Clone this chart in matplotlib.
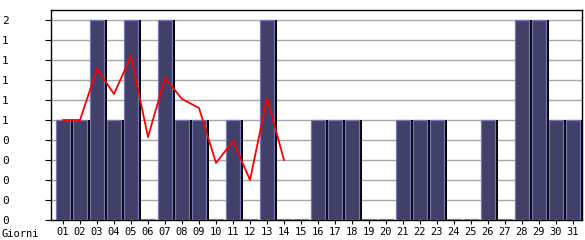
import matplotlib
matplotlib.use("Agg")
import matplotlib.pyplot as plt

# dati giornalieri
giorni = ["%02d" % d for d in range(1, 32)]
valori = [1, 1, 2, 1, 2, 0, 2, 1, 1, 0, 1, 0, 2, 0, 0, 1, 1, 1, 0, 0,
          1, 1, 1, 0, 0, 1, 0, 2, 2, 1, 1]
# media (linea rossa), solo primi 14 giorni
media = [1.0, 1.0, 1.51, 1.26, 1.64, 0.83, 1.42, 1.21, 1.12, 0.57,
         0.79, 0.40, 1.22, 0.60]
yticks = [0.0, 0.2, 0.4, 0.6, 0.8, 1.0, 1.2, 1.4, 1.6, 1.8, 2.0]
ylabels = ["0", "0", "0", "0", "0", "1", "1", "1", "1", "1", "2"]

W, H = 585, 240
fig = plt.figure(figsize=(W / 100, H / 100), dpi=100)
ax = fig.add_axes([51 / W, 20 / H, (582 - 51) / W, 210 / H])

x = list(range(1, 32))
# le barre a zero vengono disegnate come una sottile linea sulla base
alt = [v if v > 0 else 0.012 for v in valori]
xs = [v + 0.16 for v in x]
ax.bar(xs, valori, width=0.82, color="black", zorder=2, linewidth=0)
ax.bar(x, alt, width=0.82, color="#404068", edgecolor="#7676b4",
       linewidth=0.9, zorder=3)
ax.plot(x[:len(media)], media, color="#ff0000", linewidth=1.3, zorder=4)

ax.set_xlim(1 - 12 / 17, 31 + 9 / 17)
ax.set_ylim(0, 2.1)
ax.set_yticks(yticks)
ax.set_yticklabels(ylabels, fontsize=8, family="DejaVu Sans Mono", ha="left")
ax.tick_params(axis="y", length=4.3, width=0.8, pad=31)
ax.set_xticks(x)
ax.set_xticklabels(giorni, fontsize=7.5, family="DejaVu Sans Mono")
ax.tick_params(axis="x", length=3, width=0.8, pad=2)
ax.grid(axis="y", color="#a8a8a8", linewidth=1, zorder=0)
ax.set_axisbelow(True)
for s in ax.spines.values():
    s.set_color("black")
    s.set_linewidth(1)

fig.text(2 / W, 1 - 237 / H, "Giorni", fontsize=7.5, family="DejaVu Sans Mono")

fig.savefig("out.png", dpi=100)
